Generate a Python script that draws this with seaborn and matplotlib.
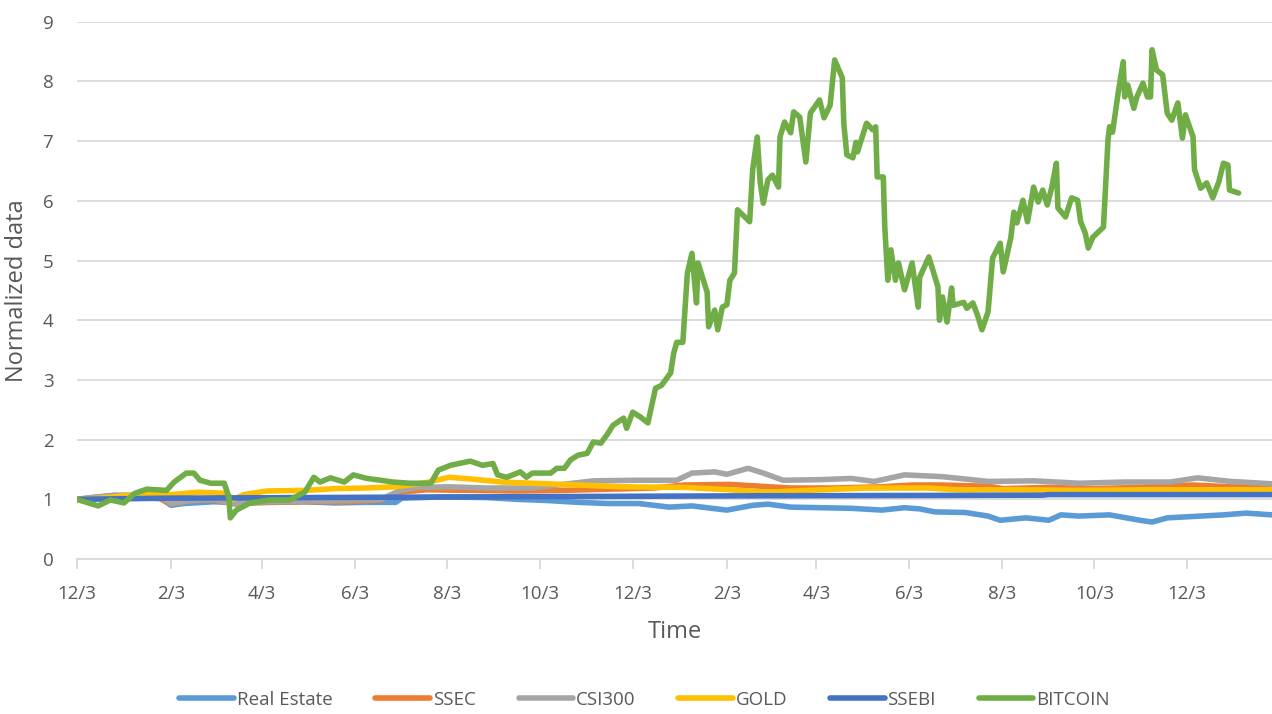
import pandas as pd
import numpy as np
import matplotlib
matplotlib.use("Agg")
import matplotlib.pyplot as plt
import matplotlib.dates as mdates
import seaborn as sns

# Day offsets are counted from the first trading day on the chart
start = pd.Timestamp("2019-12-03")

re_day = [0, 10, 25, 40, 55, 62, 70, 90, 110, 130, 150, 170, 190, 210, 214, 240, 270, 290, 310,
          330, 350, 370, 390, 405, 428, 445, 455, 470, 490, 510, 530, 545, 555, 565, 585, 600,
          608, 625, 640, 648, 660, 680, 700, 708, 718, 740, 755, 770, 787]
re_val = [1.00, 1.03, 1.07, 1.06, 1.02, 0.90, 0.93, 0.96, 0.94, 0.95, 0.96, 0.94, 0.95, 0.95, 1.02,
          1.04, 1.03, 1.00, 0.98, 0.95, 0.93, 0.93, 0.87, 0.89, 0.82, 0.90, 0.92, 0.87, 0.86, 0.85,
          0.82, 0.86, 0.84, 0.79, 0.78, 0.72, 0.65, 0.69, 0.65, 0.74, 0.72, 0.74, 0.65, 0.62, 0.69,
          0.72, 0.74, 0.77, 0.74]

ssec_day = [0, 20, 45, 55, 62, 75, 90, 105, 120, 150, 180, 200, 213, 230, 260, 290, 320, 350, 380,
            400, 430, 450, 470, 500, 530, 550, 570, 600, 610, 640, 670, 700, 735, 760, 787]
ssec_val = [1.00, 1.02, 1.03, 1.01, 0.92, 0.98, 0.99, 0.92, 0.95, 0.96, 0.96, 0.99, 1.12, 1.16, 1.15,
            1.14, 1.15, 1.17, 1.19, 1.24, 1.25, 1.22, 1.19, 1.19, 1.21, 1.24, 1.24, 1.22, 1.18, 1.20,
            1.18, 1.20, 1.24, 1.21, 1.20]

csi_day = [0, 10, 25, 45, 55, 62, 75, 90, 105, 120, 150, 180, 200, 213, 225, 245, 270, 300, 320,
           340, 370, 395, 405, 420, 428, 442, 452, 465, 490, 510, 525, 545, 570, 600, 630, 660, 690,
           720, 738, 760, 787]
csi_val = [1.00, 1.03, 1.06, 1.08, 1.05, 0.93, 0.98, 1.00, 0.92, 0.96, 0.97, 0.98, 1.00, 1.15, 1.20,
           1.21, 1.19, 1.19, 1.25, 1.31, 1.32, 1.32, 1.44, 1.46, 1.42, 1.52, 1.44, 1.32, 1.33, 1.35,
           1.30, 1.41, 1.38, 1.30, 1.31, 1.27, 1.29, 1.29, 1.36, 1.30, 1.26]

gold_day = [0, 15, 30, 50, 62, 80, 98, 103, 110, 125, 150, 170, 190, 210, 230, 245, 260, 280, 300,
            330, 360, 400, 430, 455, 480, 520, 560, 580, 620, 660, 700, 740, 787]
gold_val = [1.00, 1.02, 1.06, 1.08, 1.08, 1.12, 1.10, 1.00, 1.08, 1.14, 1.15, 1.18, 1.19, 1.21, 1.28,
            1.37, 1.34, 1.29, 1.27, 1.24, 1.21, 1.20, 1.16, 1.12, 1.15, 1.19, 1.19, 1.16, 1.16, 1.15,
            1.16, 1.16, 1.16]

ssebi_day = [0, 60, 150, 250, 350, 450, 550, 636, 640, 787]
ssebi_val = [1.00, 1.02, 1.03, 1.04, 1.05, 1.06, 1.065, 1.07, 1.08, 1.08]

btc_day = [0, 14, 22, 31, 38, 46, 59, 64, 72, 77, 81, 88, 97, 100, 101, 105, 114, 127, 140, 150,
           156, 160, 167, 176, 182, 191, 200, 208, 219, 233, 238, 246, 259, 267, 274, 277, 283, 292,
           296, 300, 312, 316, 321, 325, 330, 336, 340, 345, 349, 353, 360, 362, 366, 371, 376, 381,
           385, 391, 393, 395, 399, 402, 405, 408, 409, 415, 416, 420, 422, 425, 428, 430, 433, 435,
           443, 445, 448, 450, 452, 455, 458, 462, 463, 466, 470, 472, 476, 480, 483, 489, 492, 496,
           499, 504, 505, 507, 511, 513, 514, 520, 524, 526, 527, 531, 532, 534, 536, 539, 541, 545,
           550, 554, 555, 561, 567, 568, 570, 573, 576, 577, 584, 586, 590, 593, 596, 600, 603, 608,
           610, 615, 617, 619, 623, 626, 630, 633, 636, 639, 642, 645, 646, 651, 655, 659, 661, 664,
           666, 669, 676, 679, 680, 682, 686, 689, 690, 692, 696, 698, 702, 705, 707, 708, 711, 715,
           718, 721, 725, 728, 730, 735, 736, 740, 744, 748, 752, 755, 758, 759, 765]
btc_val = [1.00, 0.89, 0.99, 0.94, 1.10, 1.17, 1.15, 1.29, 1.44, 1.44, 1.32, 1.27, 1.27, 1.04, 0.69,
           0.82, 0.94, 0.99, 0.99, 1.12, 1.37, 1.29, 1.36, 1.29, 1.41, 1.35, 1.32, 1.29, 1.27, 1.27,
           1.49, 1.57, 1.64, 1.57, 1.60, 1.41, 1.37, 1.46, 1.37, 1.44, 1.44, 1.52, 1.52, 1.66, 1.74,
           1.77, 1.96, 1.94, 2.08, 2.24, 2.36, 2.19, 2.46, 2.38, 2.28, 2.86, 2.91, 3.12, 3.45, 3.63,
           3.63, 4.79, 5.12, 4.29, 4.96, 4.47, 3.89, 4.17, 3.84, 4.22, 4.26, 4.67, 4.79, 5.85, 5.65,
           6.52, 7.07, 6.30, 5.96, 6.35, 6.43, 6.23, 7.07, 7.32, 7.14, 7.49, 7.40, 6.65, 7.47, 7.69,
           7.39, 7.60, 8.36, 8.06, 7.30, 6.77, 6.72, 6.98, 6.82, 7.30, 7.19, 7.24, 6.40, 6.40, 5.56,
           4.67, 5.18, 4.67, 4.96, 4.51, 4.96, 4.22, 4.72, 5.06, 4.56, 4.00, 4.39, 3.97, 4.54, 4.25,
           4.30, 4.20, 4.29, 4.09, 3.84, 4.14, 5.04, 5.29, 4.81, 5.38, 5.81, 5.63, 6.01, 5.65, 6.23,
           5.98, 6.18, 5.93, 6.23, 6.63, 5.88, 5.73, 6.05, 6.01, 5.65, 5.46, 5.21, 5.39, 5.56, 7.02,
           7.24, 7.15, 7.86, 8.33, 7.74, 7.94, 7.55, 7.74, 7.97, 7.74, 7.74, 8.53, 8.19, 8.11, 7.47,
           7.35, 7.64, 7.05, 7.44, 7.07, 6.52, 6.21, 6.30, 6.05, 6.32, 6.63, 6.60, 6.18, 6.13]

series_names = ["Real Estate", "SSEC", "CSI300", "GOLD", "SSEBI", "BITCOIN"]
series_colors = ["#5B9BD5", "#ED7D31", "#A5A5A5", "#FFC000", "#4472C4", "#70AD47"]

frames = []
for name, days, vals in zip(series_names,
                            [re_day, ssec_day, csi_day, gold_day, ssebi_day, btc_day],
                            [re_val, ssec_val, csi_val, gold_val, ssebi_val, btc_val]):
    frames.append(pd.DataFrame({
        "Time": start + pd.to_timedelta(days, unit="D"),
        "value": vals,
        "series": name,
    }))
df = pd.concat(frames, ignore_index=True)

sns.set_theme(style="white")
plt.rcParams["font.family"] = ["Open Sans", "DejaVu Sans"]

fig, ax = plt.subplots(figsize=(12.72, 7.14), dpi=100)
fig.subplots_adjust(left=0.0605, right=1.0, top=0.9696, bottom=0.217)

sns.lineplot(data=df, x="Time", y="value", hue="series", hue_order=series_names,
             palette=series_colors, linewidth=4.0, errorbar=None, ax=ax)

ax.set_ylim(0, 9)
ax.set_yticks(range(0, 10))
ax.set_xlim(start, start + pd.Timedelta(days=787))
ax.xaxis.set_major_locator(mdates.MonthLocator(bymonth=[2, 4, 6, 8, 10, 12], bymonthday=3))
ax.xaxis.set_major_formatter(plt.FuncFormatter(
    lambda v, pos: f"{mdates.num2date(v).month}/{mdates.num2date(v).day}"))

ax.grid(axis="y", color="#D9D9D9", linewidth=1.3)
ax.set_axisbelow(True)
for side in ["left", "top", "right"]:
    ax.spines[side].set_visible(False)
ax.spines["bottom"].set_color("#D9D9D9")
ax.spines["bottom"].set_linewidth(1.3)

ax.tick_params(axis="x", colors="#D9D9D9", length=7, width=1.3, direction="out",
               labelcolor="#595959", labelsize=13.5, pad=12, bottom=True)
ax.tick_params(axis="y", length=0, labelcolor="#595959", labelsize=13.5, pad=17)

ax.set_xlabel("Time", fontsize=17, color="#595959", labelpad=12)
ax.set_ylabel("Normalized data", fontsize=17, color="#595959", labelpad=10)

ax.legend(loc="center", bbox_to_anchor=(0.475, -0.262), ncol=6, frameon=False,
          fontsize=13.5, handlelength=2.9, handletextpad=0.15, columnspacing=2.3,
          labelcolor="#595959")

fig.savefig("out.png", dpi=100)
